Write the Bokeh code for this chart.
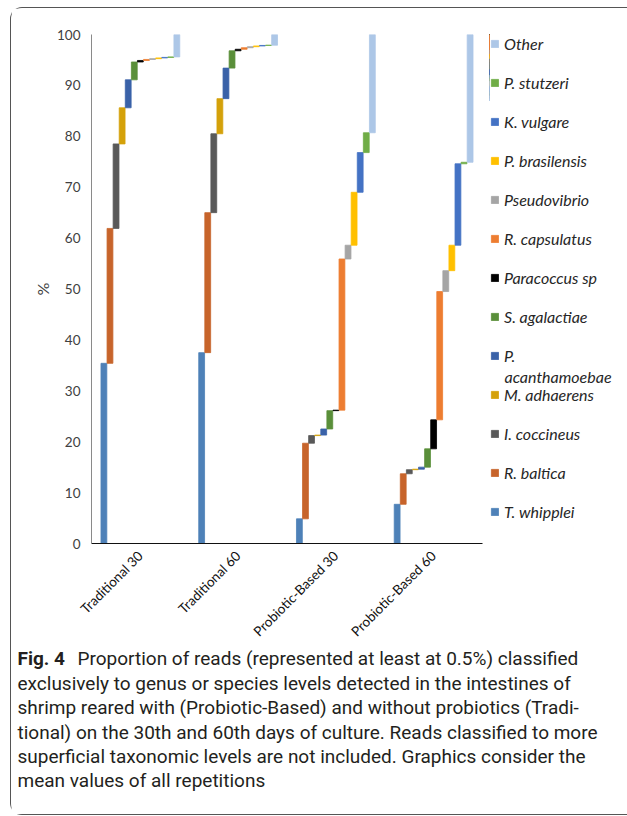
import math
import numpy as np
from bokeh.plotting import figure
from bokeh.layouts import column, row
from bokeh.models import (ColumnDataSource, FactorRange, Range1d, FixedTicker, Legend,
                          LegendItem, Label)
from bokeh.transform import dodge
from bokeh.embed import file_html
from bokeh.resources import INLINE

# ---------------- data ----------------
categories = ["Traditional 30", "Traditional 60", "Probiotic-Based 30", "Probiotic-Based 60"]
species = ["T. whipplei", "R. baltica", "I. coccineus", "M. adhaerens", "P. acanthamoebae",
           "S. agalactiae", "Paracoccus sp", "R. capsulatus", "Pseudovibrio", "P. brasilensis",
           "K. vulgare", "P. stutzeri", "Other"]
legend_labels = ["T. whipplei", "R. baltica", "I. coccineus", "M. adhaerens", "P.",
                 "S. agalactiae", "Paracoccus sp", "R. capsulatus", "Pseudovibrio",
                 "P. brasilensis", "K. vulgare", "P. stutzeri", "Other"]
colors = ["#4E81B8", "#C7642B", "#595959", "#D4A10A", "#3A62A8", "#5A8F3A", "#000000",
          "#ED7D31", "#A5A5A5", "#FFC000", "#4472C4", "#70AD47", "#ADC7E7"]

t_whipplei = [35.4, 37.5, 4.85, 7.7]
r_baltica = [26.5, 27.5, 14.85, 6.0]
i_coccineus = [16.6, 15.5, 1.5, 0.8]
m_adhaerens = [7.1, 6.9, 0.1, 0.1]
p_acanthamoebae = [5.5, 6.0, 1.2, 0.4]
s_agalactiae = [3.5, 3.4, 3.6, 3.6]
paracoccus_sp = [0.3, 0.3, 0.1, 5.7]
r_capsulatus = [0.2, 0.3, 29.7, 25.2]
pseudovibrio = [0.15, 0.2, 2.7, 4.1]
p_brasilensis = [0.15, 0.15, 10.4, 5.0]
k_vulgare = [0.1, 0.1, 7.8, 16.0]
p_stutzeri = [0.1, 0.05, 3.9, 0.3]
other = [4.4, 2.1, 19.3, 25.1]

series_values = [t_whipplei, r_baltica, i_coccineus, m_adhaerens, p_acanthamoebae,
                 s_agalactiae, paracoccus_sp, r_capsulatus, pseudovibrio, p_brasilensis,
                 k_vulgare, p_stutzeri, other]

y_ticks = [0, 10, 20, 30, 40, 50, 60, 70, 80, 90, 100]

caption_bold = "Fig. 4"
caption_lines = [
    "Proportion of reads (represented at least at 0.5%) classified",
    "exclusively to genus or species levels detected in the intestines of",
    "shrimp reared with (Probiotic-Based) and without probiotics (Tradi-",
    "tional) on the 30th and 60th days of culture. Reads classified to more",
    "superficial taxonomic levels are not included. Graphics consider the",
    "mean values of all repetitions",
]

chart_font = "Lato"
cap_font = "Roboto"
cap_size = "19px"

# ---------------- chart ----------------
p = figure(width=478, height=640, x_range=FactorRange(*categories, range_padding=0),
           y_range=Range1d(0, 100), output_backend="svg", toolbar_location=None,
           min_border_left=80, min_border_right=7, min_border_top=26, min_border_bottom=105)
p.outline_line_color = None
p.xgrid.grid_line_color = None
p.ygrid.grid_line_color = None

vals = np.array(series_values)
tops = np.cumsum(vals, axis=0)
bottoms = tops - vals

# legend panel (its frame is aligned with the chart frame: page y 34..543)
pl = figure(width=138, height=640, x_range=Range1d(489, 627), y_range=Range1d(543, 34),
            output_backend="svg", toolbar_location=None, x_axis_type=None, y_axis_type=None,
            min_border_left=0, min_border_right=0, min_border_top=26, min_border_bottom=105)
pl.outline_line_color = None
pl.xgrid.grid_line_color = None
pl.ygrid.grid_line_color = None

step = 0.0622
items = []
for i, name in enumerate(species):
    src = ColumnDataSource(dict(cat=categories, bottom=bottoms[i], top=tops[i]))
    xspec = dodge("cat", (i - 6) * step, range=p.x_range)
    p.vbar(x=xspec, width=step * 0.96, bottom="bottom", top="top", source=src,
           fill_color=colors[i], line_color=colors[i], line_width=0.8)
    # legend proxy sharing the same data (falls outside the legend panel's visible range)
    r = pl.vbar(x=xspec, width=step * 0.96, bottom="bottom", top="top", source=src,
                fill_color=colors[i], line_color=colors[i], line_width=0.8)
    items.append(LegendItem(label=legend_labels[i], renderers=[r]))

p.yaxis.ticker = FixedTicker(ticks=y_ticks)
p.yaxis.major_tick_line_color = None
p.yaxis.minor_tick_line_color = None
p.yaxis.axis_line_color = "#8a8a8a"
p.yaxis.major_label_standoff = 5
p.yaxis.major_label_text_font = chart_font
p.yaxis.major_label_text_font_size = "13.5px"
p.yaxis.major_label_text_color = "#404040"
p.yaxis.axis_label = "%"
p.yaxis.axis_label_text_font = chart_font
p.yaxis.axis_label_text_font_style = "normal"
p.yaxis.axis_label_text_font_size = "16px"
p.yaxis.axis_label_text_color = "#404040"
p.yaxis.axis_label_standoff = 2

p.xaxis.major_tick_line_color = None
p.xaxis.minor_tick_line_color = None
p.xaxis.axis_line_color = "#111111"
p.xaxis.major_label_orientation = math.pi / 4
p.xaxis.major_label_text_font = chart_font
p.xaxis.major_label_text_font_size = "13.5px"
p.xaxis.major_label_text_color = "#111111"
p.xaxis.major_label_standoff = 4

legend = Legend(items=list(reversed(items)), location=(1, 22),
                glyph_width=9, glyph_height=9, label_height=20, spacing=19,
                label_standoff=5, padding=0, margin=0, border_line_color=None,
                background_fill_alpha=0, label_text_font=chart_font,
                label_text_font_style="italic", label_text_font_size="16px",
                label_text_color="#262626")
pl.add_layout(legend)
pl.add_layout(Label(x=504, y=376, text="acanthamoebae", text_font=chart_font,
                    text_font_style="italic", text_font_size="16px",
                    text_color="#262626", text_baseline="middle"))

# ---------------- caption ----------------
pc = figure(width=616, height=166, x_range=Range1d(11, 627), y_range=Range1d(814, 648),
            output_backend="svg", toolbar_location=None, x_axis_type=None, y_axis_type=None,
            min_border=0)
pc.outline_line_color = None
pc.xgrid.grid_line_color = None
pc.ygrid.grid_line_color = None
line_y = [658, 683, 707, 732, 756, 780]
pc.add_layout(Label(x=17, y=line_y[0], text=caption_bold, text_font=cap_font,
                    text_font_style="bold", text_font_size=cap_size,
                    text_color="#231f20", text_baseline="middle"))
for k, line in enumerate(caption_lines):
    pc.add_layout(Label(x=77 if k == 0 else 17, y=line_y[k], text=line, text_font=cap_font,
                        text_font_size=cap_size, text_color="#231f20",
                        text_baseline="middle"))

layout = column(row(p, pl), pc,
                styles={"margin-left": "10px", "margin-top": "7px",
                        "border-left": "1px solid #555555", "border-top": "1px solid #555555",
                        "border-bottom": "1px solid #555555",
                        "border-top-left-radius": "12px", "border-bottom-left-radius": "12px"})

open("out.html", "w").write(file_html(layout, INLINE))
